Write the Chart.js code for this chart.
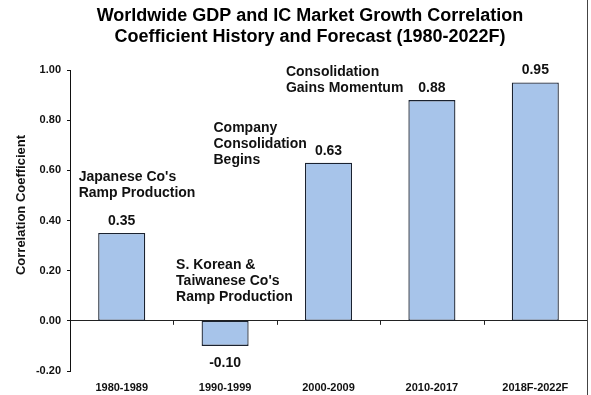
<!DOCTYPE html>
<html lang="en">
<head>
<meta charset="UTF-8">
<title>Worldwide GDP and IC Market Growth Correlation</title>
<style>
    html, body { margin: 0; padding: 0; background: #ffffff; }
    #wrap { width: 591px; height: 395px; }
</style>
</head>
<body>
<div id="wrap"><canvas id="corrChart" width="591" height="395"></canvas></div>

<script src="https://cdn.jsdelivr.net/npm/chart.js"></script>
<script>
    const periods = ['1980-1989', '1990-1999', '2000-2009', '2010-2017', '2018F-2022F'];
    const coefficients = [0.35, -0.10, 0.63, 0.88, 0.95];
    const yMin = -0.2;
    const yMax = 1.0;
    const yStep = 0.2;
    const titleLines = [
        'Worldwide GDP and IC Market Growth Correlation',
        'Coefficient History and Forecast (1980-2022F)'
    ];
    const yTitle = 'Correlation Coefficient';
    const noteTexts = [
        ["Japanese Co's", 'Ramp Production'],
        ['S. Korean &', "Taiwanese Co's", 'Ramp Production'],
        ['Company', 'Consolidation', 'Begins'],
        ['Consolidation', 'Gains Momentum']
    ];

    const FONT = 'Arial, "Liberation Sans", sans-serif';

    // where each note sits: category it belongs to, x shift from its centre, value of first line
    const noteAnchors = [
        { cat: 0, dx: -43, v: 0.574 },
        { cat: 1, dx: -49, v: 0.222 },
        { cat: 2, dx: -115, v: 0.768 },
        { cat: 3, dx: -146, v: 0.99 }
    ];

    const extras = {
        id: 'extras',
        afterDraw(chart) {
            const ctx = chart.ctx;
            const xs = chart.scales.x;
            const ys = chart.scales.y;
            const area = chart.chartArea;
            const y0 = ys.getPixelForValue(0);
            const half = (xs.getPixelForValue(1) - xs.getPixelForValue(0)) / 2;

            ctx.save();
            // small ticks between categories on the zero line
            ctx.strokeStyle = '#222';
            ctx.lineWidth = 1;
            for (let i = 1; i < periods.length; i++) {
                const bx = Math.round(xs.getPixelForValue(i) - half) + 0.5;
                ctx.beginPath();
                ctx.moveTo(bx, y0);
                ctx.lineTo(bx, y0 + 4);
                ctx.stroke();
            }
            // frame line on the right
            ctx.strokeStyle = '#444';
            const rx = Math.round(area.right) + 0.5;
            ctx.beginPath();
            ctx.moveTo(rx, 0);
            ctx.lineTo(rx, chart.height);
            ctx.stroke();

            // value labels
            ctx.fillStyle = '#111';
            ctx.font = 'bold 14px ' + FONT;
            ctx.textAlign = 'center';
            ctx.textBaseline = 'middle';
            const meta = chart.getDatasetMeta(0);
            meta.data.forEach((bar, i) => {
                const v = coefficients[i];
                const ty = v >= 0 ? bar.y - 12 : bar.y + 17;
                ctx.fillText(v.toFixed(2), bar.x, ty);
            });

            // notes
            ctx.textAlign = 'left';
            noteTexts.forEach((lines, k) => {
                const a = noteAnchors[k];
                const nx = xs.getPixelForValue(a.cat) + a.dx;
                const ny = ys.getPixelForValue(a.v);
                lines.forEach((t, j) => ctx.fillText(t, nx, ny + j * 16));
            });

            // y axis title
            ctx.save();
            ctx.translate(21, 205);
            ctx.rotate(-Math.PI / 2);
            ctx.textAlign = 'center';
            ctx.font = 'bold 13px ' + FONT;
            ctx.fillText(yTitle, 0, 0);
            ctx.restore();

            // title
            ctx.fillStyle = '#000';
            ctx.font = 'bold 18px ' + FONT;
            ctx.textAlign = 'center';
            titleLines.forEach((t, j) => ctx.fillText(t, 310, 16 + j * 21));
            ctx.restore();
        }
    };

    const chart = new Chart(document.getElementById('corrChart'), {
        type: 'bar',
        data: {
            labels: periods,
            datasets: [{
                data: coefficients,
                backgroundColor: '#a7c4ea',
                borderColor: '#1a2230',
                borderWidth: 1.3,
                borderSkipped: false,
                categoryPercentage: 1,
                barPercentage: 0.455
            }]
        },
        options: {
            responsive: false,
            animation: false,
            layout: { padding: { top: 70, right: 4, left: 0, bottom: 0 } },
            plugins: {
                legend: { display: false },
                tooltip: { enabled: false }
            },
            scales: {
                x: {
                    grid: { display: false, drawTicks: false },
                    border: { display: false },
                    ticks: {
                        color: '#111',
                        font: { family: FONT, size: 11, weight: 'bold' },
                        padding: 10,
                        maxRotation: 0
                    },
                    afterFit(scale) { scale.height = 24; }
                },
                y: {
                    min: yMin,
                    max: yMax,
                    border: { display: true, color: '#111', width: 1 },
                    grid: {
                        drawOnChartArea: true,
                        color: c => (Math.abs(c.tick.value) < 1e-9 ? '#222' : 'rgba(0,0,0,0)'),
                        tickColor: '#111',
                        tickLength: 3
                    },
                    ticks: {
                        stepSize: yStep,
                        color: '#111',
                        padding: 6,
                        font: { family: FONT, size: 11, weight: 'bold' },
                        callback: v => (Math.abs(v) < 1e-9 ? '0.00' : Number(v).toFixed(2))
                    },
                    title: { display: false },
                    afterFit(scale) { scale.width = 70; }
                }
            }
        },
        plugins: [extras]
    });
</script>
</body>
</html>
